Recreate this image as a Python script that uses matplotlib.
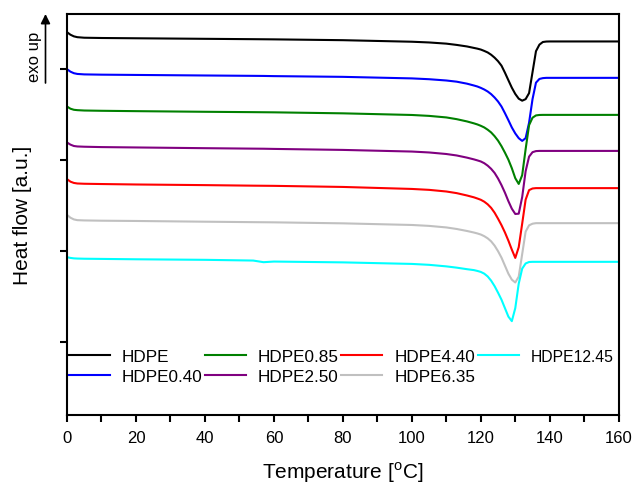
import matplotlib
matplotlib.use("Agg")
import matplotlib.pyplot as plt
from matplotlib.ticker import MultipleLocator

plt.rcParams["font.family"] = ["Liberation Sans", "DejaVu Sans"]
plt.rcParams["mathtext.fontset"] = "custom"
plt.rcParams["mathtext.rm"] = "Liberation Sans"

# temperature grid [oC], 1 degree steps through the melting peak
temp = [0, 1, 2, 3, 5, 10, 20, 40, 54, 57, 60, 80, 100, 105, 110, 113, 116, 118,
        119, 120, 121, 122, 123, 124, 125, 126, 127, 128, 129, 130, 131, 132,
        133, 134, 135, 136, 137, 138, 139, 140, 142, 145, 150, 160]

# heat flow [a.u.], curves already shifted for stacking
hdpe = [4.410, 4.382, 4.364, 4.355, 4.349, 4.346, 4.343, 4.337, 4.333, 4.332,
        4.331, 4.322, 4.305, 4.297, 4.284, 4.270, 4.253, 4.237, 4.229, 4.219,
        4.204, 4.187, 4.162, 4.130, 4.091, 4.042, 3.965, 3.882, 3.800, 3.731,
        3.679, 3.657, 3.674, 3.740, 3.970, 4.201, 4.273, 4.302, 4.307, 4.308,
        4.308, 4.308, 4.308, 4.308]
hdpe040 = [4.003, 3.976, 3.959, 3.951, 3.946, 3.943, 3.940, 3.934, 3.930, 3.929,
           3.927, 3.919, 3.902, 3.893, 3.879, 3.866, 3.844, 3.824, 3.813, 3.798,
           3.780, 3.758, 3.729, 3.692, 3.648, 3.593, 3.520, 3.443, 3.363, 3.297,
           3.245, 3.215, 3.245, 3.415, 3.674, 3.855, 3.896, 3.905, 3.908, 3.908,
           3.908, 3.908, 3.908, 3.908]
hdpe085 = [3.593, 3.569, 3.557, 3.553, 3.549, 3.546, 3.542, 3.535, 3.531, 3.530,
           3.529, 3.518, 3.500, 3.490, 3.473, 3.454, 3.429, 3.408, 3.396, 3.381,
           3.363, 3.338, 3.308, 3.267, 3.218, 3.157, 3.086, 3.009, 2.915, 2.805,
           2.742, 2.838, 3.124, 3.388, 3.470, 3.495, 3.500, 3.501, 3.501, 3.501,
           3.501, 3.501, 3.501, 3.501]
hdpe250 = [3.198, 3.174, 3.159, 3.154, 3.151, 3.147, 3.143, 3.135, 3.130, 3.129,
           3.127, 3.116, 3.098, 3.088, 3.071, 3.055, 3.031, 3.012, 3.001, 2.989,
           2.970, 2.943, 2.908, 2.863, 2.802, 2.729, 2.646, 2.553, 2.470, 2.412,
           2.415, 2.597, 2.882, 3.042, 3.091, 3.103, 3.105, 3.105, 3.105, 3.105,
           3.105, 3.105, 3.105, 3.105]
hdpe440 = [2.795, 2.767, 2.753, 2.747, 2.744, 2.741, 2.736, 2.729, 2.723, 2.722,
           2.721, 2.709, 2.687, 2.677, 2.659, 2.641, 2.615, 2.595, 2.582, 2.568,
           2.547, 2.518, 2.479, 2.426, 2.360, 2.289, 2.209, 2.119, 2.020, 1.929,
           2.047, 2.305, 2.569, 2.674, 2.692, 2.696, 2.696, 2.696, 2.696, 2.696,
           2.696, 2.696, 2.696, 2.696]
hdpe635 = [2.402, 2.371, 2.352, 2.344, 2.341, 2.338, 2.335, 2.327, 2.322, 2.321,
           2.320, 2.309, 2.291, 2.281, 2.264, 2.247, 2.225, 2.208, 2.198, 2.186,
           2.168, 2.144, 2.111, 2.064, 2.003, 1.932, 1.844, 1.756, 1.690, 1.659,
           1.723, 1.970, 2.218, 2.287, 2.305, 2.311, 2.311, 2.311, 2.311, 2.311,
           2.311, 2.311, 2.311, 2.311]
hdpe1245 = [1.937, 1.929, 1.924, 1.922, 1.920, 1.918, 1.914, 1.908, 1.900, 1.882,
            1.889, 1.880, 1.863, 1.853, 1.836, 1.822, 1.805, 1.795, 1.786, 1.775,
            1.756, 1.725, 1.679, 1.619, 1.547, 1.470, 1.377, 1.284, 1.234, 1.377,
            1.646, 1.811, 1.868, 1.884, 1.886, 1.886, 1.886, 1.886, 1.886, 1.886,
            1.886, 1.886, 1.886, 1.886]

labels = ["HDPE", "HDPE0.40", "HDPE0.85", "HDPE2.50", "HDPE4.40", "HDPE6.35", "HDPE12.45"]
colors = ["black", "#0000ff", "#008000", "#800080", "#ff0000", "#c0c0c0", "#00ffff"]
curves = [hdpe, hdpe040, hdpe085, hdpe250, hdpe440, hdpe635, hdpe1245]

fig = plt.figure(figsize=(6.32, 4.89), dpi=100)
ax = fig.add_axes([0.106, 0.149, 0.873, 0.820])

for y, lab, c in zip(curves, labels, colors):
    ax.plot(temp, y, color=c, lw=1.5, label=lab, solid_joinstyle="round")

ax.set_xlim(0, 160)
ax.set_ylim(0.201, 4.608)
ax.xaxis.set_major_locator(MultipleLocator(20))
ax.xaxis.set_minor_locator(MultipleLocator(10))
ax.set_yticks([1, 2, 3, 4])
ax.set_yticklabels([])
ax.tick_params(which="both", direction="out", width=1.5, length=5, labelsize=12, pad=6)
ax.tick_params(axis="x", which="both", top=False)
for s in ax.spines.values():
    s.set_linewidth(1.5)

ax.set_xlabel(r"Temperature [$^{\mathregular{o}}$C]", fontsize=15, labelpad=10)
ax.set_ylabel("Heat flow [a.u.]", fontsize=15, labelpad=14)

leg = ax.legend(loc="lower left", bbox_to_anchor=(0.0, 0.073), ncol=4, frameon=False,
                fontsize=12.3, handlelength=2.4, handletextpad=0.7, columnspacing=0.15,
                labelspacing=0.3, borderaxespad=0.0, borderpad=0.1)
leg.get_texts()[-1].set_fontsize(11.3)

# exo up marker
ax.annotate("", xy=(45.5 / 632, 1 - 15 / 489), xytext=(45.5 / 632, 1 - 84 / 489),
            xycoords="figure fraction", textcoords="figure fraction",
            arrowprops=dict(arrowstyle="-|>", color="black", lw=1.2,
                            mutation_scale=14, shrinkA=0, shrinkB=0))
fig.text(35 / 632, 1 - 57 / 489, "exo up", rotation=90, ha="center", va="center",
         fontsize=12)

fig.savefig("out.png", dpi=100)
